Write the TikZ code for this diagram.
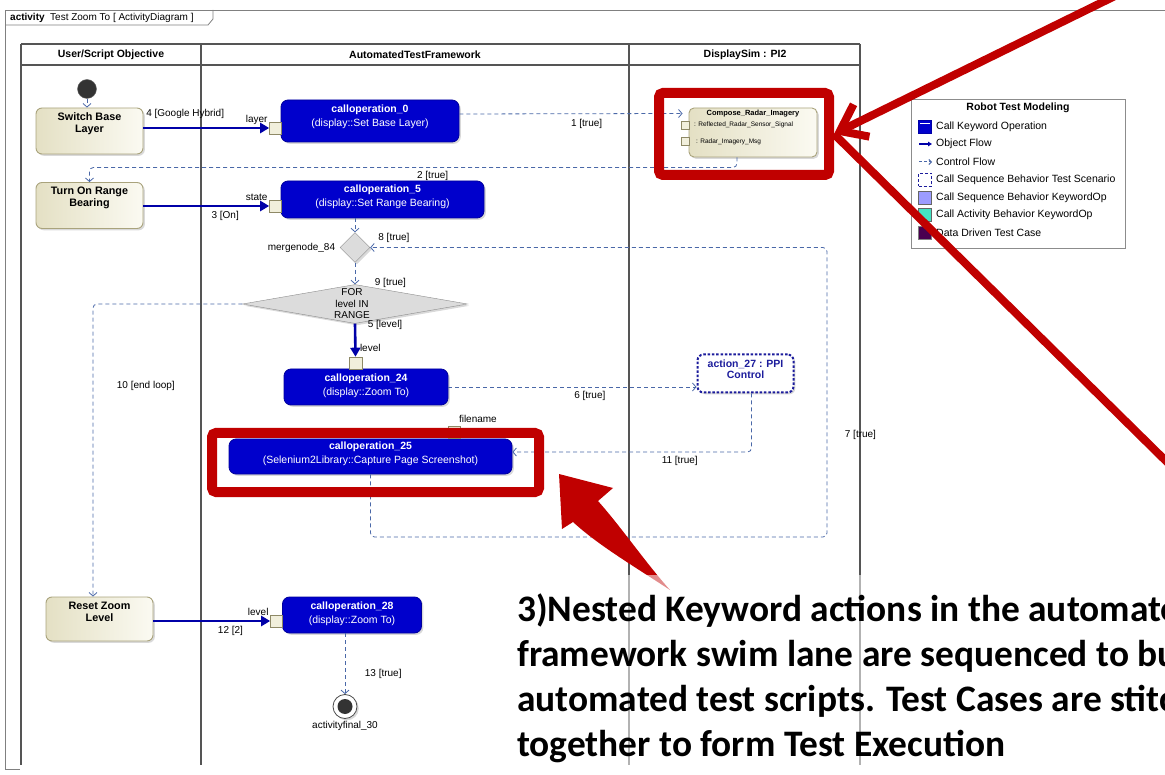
\documentclass[tikz,border=0pt]{standalone}
\usepackage{fontspec}
\setmainfont{Liberation Sans}
\newfontfamily\notefont{Carlito}
\usepackage{tikz}
\usetikzlibrary{arrows.meta,positioning,shapes.geometric,shadows}
\definecolor{LaneGray}{HTML}{555555}
\definecolor{FrameGray}{HTML}{808080}
\definecolor{BeigeDark}{HTML}{E4E0C4}
\definecolor{BeigeLight}{HTML}{FBFAF2}
\definecolor{BeigeEdge}{HTML}{A9A37C}
\definecolor{PortFill}{HTML}{F1EFDC}
\definecolor{PortEdge}{HTML}{8E8966}
\definecolor{OpBlue}{HTML}{0000CC}
\definecolor{OpEdge}{HTML}{00009C}
\definecolor{FlowBlue}{HTML}{0000A8}
\definecolor{CtrlBlue}{HTML}{4A68A8}
\definecolor{MergeGray}{HTML}{DCDCDC}
\definecolor{MergeEdge}{HTML}{8C8C8C}
\definecolor{ScenNavy}{HTML}{1C1C9C}
\definecolor{MarkRed}{HTML}{C00000}
\definecolor{LgLavender}{HTML}{9C9CFF}
\definecolor{LgTeal}{HTML}{44E3C2}
\definecolor{LgPurple}{HTML}{4A0050}

\begin{document}
\begin{tikzpicture}[x=1pt,y=-1pt,
  font=\fontsize{10.5}{12}\selectfont,
  lane/.style={draw=LaneGray,line width=1.6pt},
  softshadow/.style={drop shadow={shadow xshift=1.8pt,shadow yshift=-1.8pt,opacity=0.3,fill=black!50}},
  objbox/.style={draw=BeigeEdge,left color=BeigeDark,right color=BeigeLight,rounded corners=6pt,line width=0.9pt,minimum width=107pt,minimum height=46pt,inner sep=0pt,softshadow},
  objtext/.style={font=\fontsize{10.8}{12}\selectfont\bfseries,align=center,inner sep=0pt},
  opbox/.style={draw=OpEdge,fill=OpBlue,rounded corners=7pt,line width=0.8pt,inner sep=0pt,softshadow},
  optext/.style={text=white,align=center,inner sep=0pt,font=\fontsize{10.5}{14}\selectfont},
  portbox/.style={draw=PortEdge,fill=PortFill,line width=0.6pt,minimum width=12pt,minimum height=12pt,inner sep=0pt},
  ctrl/.style={draw=CtrlBlue,line width=0.8pt,dash pattern=on 4pt off 3pt,rounded corners=4pt,-{Straight Barb[length=3.5pt,width=8pt]}},
  objflow/.style={draw=FlowBlue,line width=2.6pt,-{Triangle[length=9pt,width=10pt]}},
  lbl/.style={font=\fontsize{10}{11}\selectfont,inner sep=1.5pt},
  redbox/.style={draw=MarkRed,line width=10pt,rounded corners=4pt,inner sep=0pt},
  redline/.style={draw=MarkRed,line width=8pt},
  lgicon/.style={minimum width=13pt,minimum height=13pt,inner sep=0pt,line width=0.8pt},
  lgtext/.style={anchor=west,inner sep=0pt,font=\fontsize{10.5}{12}\selectfont},
  notetext/.style={anchor=base west,inner sep=0pt,font=\notefont\bfseries\fontsize{37.4}{45}\selectfont}
]
\useasboundingbox (0,0) rectangle (1165,775);
\begin{scope}
\clip (0,0) rectangle (1165,775);

% diagram frame
\draw[FrameGray,line width=0.8pt] (1170,10) -- (5,10) -- (5,769) -- (20,769);
\draw[FrameGray,line width=0.8pt] (5,25) -- (208,25) -- (213,19) -- (213,10);
\node[anchor=base west,inner sep=0pt,font=\fontsize{10}{12}\selectfont] (frametitle) at (10,21) {\textbf{activity}\ \ Test Zoom To [ ActivityDiagram ]};

% swim lanes
\draw[lane] (21,44) -- (860,44);
\draw[lane] (21,65) -- (860,65);
\foreach \lx in {21,201,629,860}
  \draw[lane] (\lx,44) -- (\lx,765);
\node[font=\fontsize{10.5}{12}\selectfont\bfseries] (laneuser) at (111,54.5) {User/Script Objective};
\node[font=\fontsize{10.5}{12}\selectfont\bfseries] (laneatf) at (415,54.5) {AutomatedTestFramework};
\node[font=\fontsize{10.5}{12}\selectfont\bfseries] (lanesim) at (745,54.5) {DisplaySim : PI2};

% user lane
\node[circle,fill=black!80,draw=black!60,minimum size=19pt,inner sep=0pt] (init) at (87,89) {};
\node[objbox] (sbl) at (89.5,131) {};
\node[objtext,below=5pt of sbl.north] (sblt) {Switch Base\\Layer};
\node[objbox] (torb) at (89.5,205.5) {};
\node[objtext,below=5pt of torb.north] (torbt) {Turn On Range\\Bearing};
\node[objbox,minimum height=44pt] (rzl) at (99.5,619) {};
\node[objtext,below=5pt of rzl.north] (rzlt) {Reset Zoom\\Level};

% framework lane
\node[opbox,minimum width=178pt,minimum height=42pt] (c0) at (370,121) {};
\node[optext,below=5pt of c0.north] (c0t) {\textbf{calloperation\_0}\\(display::Set Base Layer)};
\node[opbox,minimum width=203pt,minimum height=37pt] (c5) at (382.5,199.5) {};
\node[optext,below=4pt of c5.north] (c5t) {\textbf{calloperation\_5}\\(display::Set Range Bearing)};
\node[opbox,minimum width=164pt,minimum height=36pt] (c24) at (366,387) {};
\node[optext,below=5pt of c24.north] (c24t) {\textbf{calloperation\_24}\\(display::Zoom To)};
\node[opbox,minimum width=283pt,minimum height=35pt] (c25) at (370.5,456.5) {};
\node[optext,below=3.5pt of c25.north] (c25t) {\textbf{calloperation\_25}\\(Selenium2Library::Capture Page Screenshot)};
\node[opbox,minimum width=139pt,minimum height=36pt] (c28) at (352,615) {};
\node[optext,below=5pt of c28.north] (c28t) {\textbf{calloperation\_28}\\(display::Zoom To)};

\node[portbox,label={[lbl,yshift=8pt,label distance=0pt]left:layer}] (p0) at (275.5,128) {};
\node[portbox,label={[lbl,yshift=9pt,label distance=0pt]left:state}] (p5) at (275.5,206) {};
\node[portbox,minimum width=13pt,label={[lbl,xshift=-4pt,yshift=15pt]right:level}] (p24) at (355.5,363) {};
\node[portbox,label={[lbl,xshift=-3pt,yshift=13pt]right:filename}] (pfn) at (454,432) {};
\node[portbox,label={[lbl,yshift=9pt,label distance=0pt]left:level}] (p28) at (276.5,621) {};

\node[diamond,draw=MergeEdge,fill=MergeGray,minimum width=30pt,minimum height=30pt,inner sep=0pt,softshadow,label={[lbl,label distance=3pt]left:mergenode\_84}] (merge) at (355,247.5) {};
\node[diamond,draw=MergeEdge,fill=MergeGray,minimum width=225pt,minimum height=39pt,inner sep=0pt,softshadow] (forloop) at (355,304) {};
\node[align=center,inner sep=0pt,font=\fontsize{10}{11.5}\selectfont] (forloopt) at (352,304) {FOR\\level IN\\RANGE};

\node[circle,draw=black!70,fill=white,line width=0.8pt,minimum size=24pt,inner sep=0pt,softshadow,label={[lbl,label distance=1pt]below:activityfinal\_30}] (final) at (345,706.5) {};
\node[circle,fill=black!80,minimum size=15pt,inner sep=0pt] (finaldot) at (final) {};

% simulator lane
\node[objbox,minimum width=128pt,minimum height=49pt,rounded corners=5pt] (cri) at (753,132.5) {};
\node[font=\fontsize{7.5}{9}\selectfont\bfseries,inner sep=0pt] (crit) at (753,113.5) {Compose\_Radar\_Imagery};
\node[portbox,minimum width=8pt,minimum height=8pt] (crp1) at (685.5,125.5) {};
\node[portbox,minimum width=8pt,minimum height=8pt] (crp2) at (685.5,141) {};
\node[anchor=west,inner sep=0pt,font=\fontsize{6.5}{8}\selectfont] (crl1) at (694,124.5) {: Reflected\_Radar\_Sensor\_Signal};
\node[anchor=west,inner sep=0pt,font=\fontsize{6.5}{8}\selectfont] (crl2) at (696,142) {: Radar\_Imagery\_Msg};
\node[draw=ScenNavy,line width=2pt,dash pattern=on 2.5pt off 1.8pt,rounded corners=6pt,fill=white,minimum width=96pt,minimum height=38pt,inner sep=0pt,softshadow] (a27) at (745.5,373.5) {};
\node[below=6pt of a27.north,align=center,inner sep=0pt,text=ScenNavy,font=\fontsize{10.5}{11.5}\selectfont\bfseries] (a27t) {action\_27 : PPI\\Control};

% flows
\draw[ctrl] (init) -- (init |- sbl.north);
\draw[objflow] (sbl.east |- p0.west) -- node[lbl,above right,pos=0,yshift=7pt] (l4) {4 [Google Hybrid]} (p0.west);
\draw[ctrl] ([yshift=7pt]c0.east) -- node[lbl,below=4pt,pos=0.57] (l1) {1 [true]} ([xshift=-6pt,yshift=19pt]cri.west);
\draw[ctrl] ([xshift=-16pt]cri.south) -- ++(0,10) -| node[lbl,pos=0.235,below=2pt] (l2) {2 [true]} (torb.north);
\draw[objflow] (torb.east |- p5.west) -- node[lbl,below=2pt,pos=0.65] (l3) {3 [On]} (p5.west);
\draw[ctrl] (merge |- c5.south) -- (merge.north);
\draw[ctrl] (merge.south) -- node[lbl,pos=0.95,right=18pt] (l9) {9 [true]} (forloop.north);
\draw[ctrl] (forloop.west) -| node[lbl,pos=0.64,right=22pt] (l10) {10 [end loop]} ([xshift=-6.5pt]rzl.north);
\draw[objflow] (forloop.south) -- node[lbl,pos=0.03,right=10pt] (l5) {5 [level]} (p24.north);
\draw[ctrl] (c24.east) -- node[lbl,pos=0.57,below=2pt] (l6) {6 [true]} (c24.east -| a27.west);
\draw[ctrl] ([xshift=6pt]a27.south) |- node[lbl,pos=0.65,below=2pt] (l11) {11 [true]} ([yshift=4.5pt]c25.east);
\coordinate (loopc) at (827,537);
\draw[ctrl] (c25.south) |- (loopc) |- node[lbl,pos=0.176,right=16pt] (l7) {7 [true]} node[lbl,pos=0.974,above=3pt] (l8) {8 [true]} (merge.east);
\draw[objflow] (rzl.east |- p28.west) -- node[lbl,pos=0.66,below=2pt] (l12) {12 [2]} (p28.west);
\draw[ctrl] (final |- c28.south) -- node[lbl,pos=0.67,right=18pt] (l13) {13 [true]} (final.north);

% legend
\node[draw=black!45,fill=white,line width=0.8pt,minimum width=214pt,minimum height=149pt,inner sep=0pt] (legend) at (1018,174) {};
\node[font=\fontsize{10.5}{12}\selectfont\bfseries,inner sep=0pt] (legendt) at (1018,108) {Robot Test Modeling};
\node[lgicon,draw=FlowBlue,fill=OpBlue] (lg1) at (925,127) {};
\draw[white,line width=0.8pt] ([xshift=2pt,yshift=-3pt]lg1.north west) -- ([xshift=-2pt,yshift=-3pt]lg1.north east);
\coordinate (lgo1) at (919,144);
\coordinate (lgo2) at (932,144);
\draw[FlowBlue,line width=1.2pt,-{Triangle[length=4pt,width=4.5pt]}] (lgo1) -- (lgo2);
\coordinate (lgc1) at (919,162);
\coordinate (lgc2) at (932,162);
\draw[CtrlBlue,line width=1pt,dash pattern=on 3pt off 2pt,-{Straight Barb[length=2.5pt,width=5pt]}] (lgc1) -- (lgc2);
\node[lgicon,draw=ScenNavy,dash pattern=on 3pt off 2pt,fill=white] (lg4) at (925,180) {};
\node[lgicon,draw=black!60,fill=LgLavender] (lg5) at (925,198) {};
\node[lgicon,draw=black!60,fill=LgTeal] (lg6) at (925,215) {};
\node[lgicon,draw=black!50,fill=LgPurple] (lg7) at (925,233) {};
\foreach \ly/\lt [count=\i] in {127/Call Keyword Operation,144/Object Flow,162/Control Flow,180/Call Sequence Behavior Test Scenario,198/Call Sequence Behavior KeywordOp,215/Call Activity Behavior KeywordOp,233/Data Driven Test Case}
  \node[lgtext] (lgt\i) at (936,\ly) {\lt};

% red call-outs
\node[redbox,minimum width=170pt,minimum height=82pt] (hl1) at (744,134) {};
\node[redbox,minimum width=327pt,minimum height=59pt] (hl2) at (375.5,462.5) {};
\coordinate (redtop) at (1115,-4);
\coordinate (redbot) at (1170,465);
\draw[redline,-{Straight Barb[length=24pt,width=36pt]}] (redtop) -- (hl1.east);
\draw[redline] (hl1.east) -- (redbot);
\fill[MarkRed] (559,474) -- (613,488) -- (598,501)
  .. controls (622,528) and (645,562) .. (670,590)
  .. controls (632,565) and (598,545) .. (573,522)
  -- (562,529) -- cycle;

% note text
\fill[white,opacity=0.55] (510,575) rectangle (1165,775);
\node[notetext] (note1) at (517,621) {3)Nested Keyword actions in the automate};
\node[notetext] (note2) at (517,666) {framework swim lane are sequenced to bu};
\node[notetext] (note3) at (517,711) {automated test scripts. Test Cases are stitc};
\node[notetext] (note4) at (517,756) {together to form Test Execution};
\end{scope}
\end{tikzpicture}
\end{document}
